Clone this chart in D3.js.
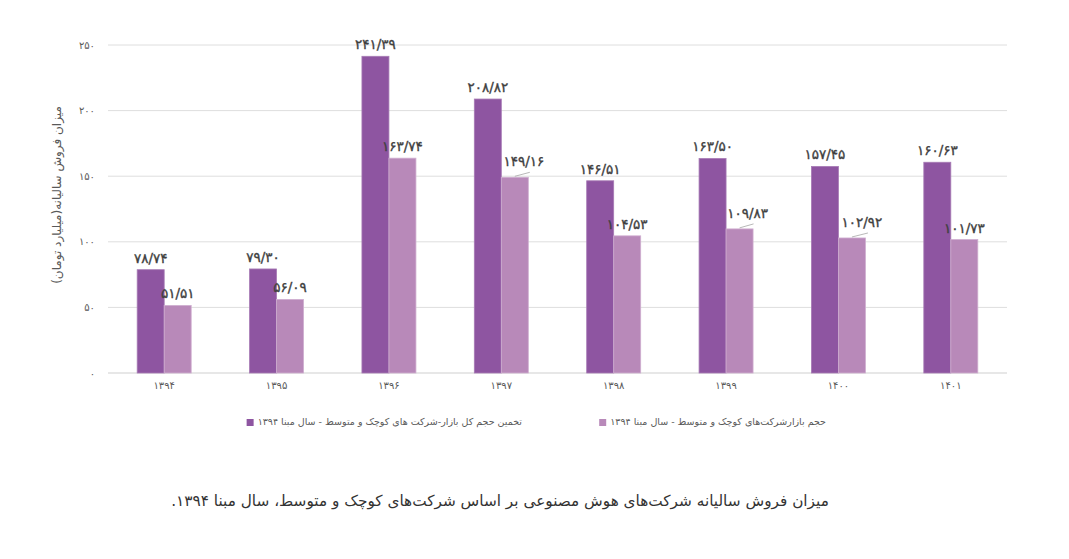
<!DOCTYPE html>
<html>
<head>
<meta charset="utf-8">
<script src="https://cdn.jsdelivr.net/npm/d3@7"></script>
<style>
  body { margin: 0; background: #fff; }
  text { font-family: "DejaVu Sans", "Noto Sans", sans-serif; }
</style>
</head>
<body>
<div id="chart"></div>
<script>
// Data
const years = ["1394", "1395", "1396", "1397", "1398", "1399", "1400", "1401"];
const totalMarket = [78.74, 79.30, 241.39, 208.82, 146.51, 163.50, 157.45, 160.63];
const smeMarket = [51.51, 56.09, 163.74, 149.16, 104.53, 109.83, 102.92, 101.73];
const yTicks = [0, 50, 100, 150, 200, 250];
const seriesNames = [
    "تخمین حجم کل بازار-شرکت های کوچک و متوسط - سال مبنا ۱۳۹۴",
    "حجم بازارشرکت‌های کوچک و متوسط - سال مبنا ۱۳۹۴"
];
const yTitle = "میزان فروش سالیانه(میلیارد تومان)";
const chartTitle = "میزان فروش سالیانه شرکت‌های هوش مصنوعی بر اساس شرکت‌های کوچک و متوسط، سال مبنا ۱۳۹۴.";

// Persian digits, "/" as decimal mark
const faDigits = "۰۱۲۳۴۵۶۷۸۹";
const toFa = s => String(s).replace(/\d/g, c => faDigits[+c]);
const fmtVal = v => toFa(v.toFixed(2).replace(".", "/"));

const colors = ["#8e55a1", "#b889b9"];

// labels that were moved off their bar in the original (with a leader line)
const labelNudge = { "1397-1": [9, 4], "1399-1": [8, 4], "1400-1": [10, 4] };

const width = 1069, height = 559;
const margin = { top: 45, right: 62, bottom: 186, left: 108 };
const innerW = width - margin.left - margin.right;
const innerH = height - margin.top - margin.bottom;

const svg = d3.select("#chart").append("svg")
    .attr("width", width)
    .attr("height", height);

const g = svg.append("g")
    .attr("transform", `translate(${margin.left},${margin.top})`);

const x0 = d3.scaleBand().domain(years).range([0, innerW]);
const groupPad = (x0.bandwidth() - 54) / 2;
const x1 = d3.scaleBand().domain([0, 1]).range([groupPad, x0.bandwidth() - groupPad]);
const y = d3.scaleLinear().domain([0, 250]).range([innerH, 0]);

// gridlines
g.selectAll("line.grid")
    .data(yTicks)
    .join("line")
    .attr("class", "grid")
    .attr("x1", 0)
    .attr("x2", innerW)
    .attr("y1", d => y(d))
    .attr("y2", d => y(d))
    .attr("stroke", d => d === 0 ? "#cfcfcf" : "#dedede")
    .attr("stroke-width", 1);

// y tick labels
g.selectAll("text.ytick")
    .data(yTicks)
    .join("text")
    .attr("class", "ytick")
    .attr("x", -13)
    .attr("y", d => y(d))
    .attr("dy", "0.35em")
    .attr("text-anchor", "end")
    .attr("fill", "#595959")
    .style("font-size", "10px")
    .text(d => toFa(d));

// x labels
g.selectAll("text.xtick")
    .data(years)
    .join("text")
    .attr("class", "xtick")
    .attr("x", d => x0(d) + x0.bandwidth() / 2)
    .attr("y", innerH + 16)
    .attr("text-anchor", "middle")
    .attr("fill", "#595959")
    .style("font-size", "10px")
    .text(d => toFa(d));

// bars
const rows = years.map((yr, i) => ({ year: yr, vals: [totalMarket[i], smeMarket[i]] }));

const groups = g.selectAll("g.year")
    .data(rows)
    .join("g")
    .attr("class", "year")
    .attr("transform", d => `translate(${x0(d.year)},0)`);

const cells = d => d.vals.map((v, k) => ({ v, k, nudge: labelNudge[d.year + "-" + k] }));

groups.selectAll("rect")
    .data(cells)
    .join("rect")
    .attr("x", d => x1(d.k))
    .attr("width", x1.bandwidth())
    .attr("y", d => y(d.v))
    .attr("height", d => innerH - y(d.v))
    .attr("fill", d => colors[d.k])
    .attr("stroke", d => d.k === 0 ? "#a77bb5" : "#cfaed0")
    .attr("stroke-width", 0.8);

// leader lines for moved labels
groups.selectAll("line.leader")
    .data(d => cells(d).filter(c => c.nudge))
    .join("line")
    .attr("class", "leader")
    .attr("x1", d => x1(d.k) + x1.bandwidth() / 2)
    .attr("y1", d => y(d.v) - 1)
    .attr("x2", d => x1(d.k) + x1.bandwidth() / 2 + d.nudge[0] + 6)
    .attr("y2", d => y(d.v) - 5)
    .attr("stroke", "#a6a6a6")
    .attr("stroke-width", 0.8);

groups.selectAll("text.val")
    .data(cells)
    .join("text")
    .attr("class", "val")
    .attr("x", d => x1(d.k) + x1.bandwidth() / 2 + (d.nudge ? d.nudge[0] : 0))
    .attr("y", d => y(d.v) - 7 - (d.nudge ? d.nudge[1] : 0))
    .attr("text-anchor", "middle")
    .attr("fill", "#404040")
    .attr("stroke", "#404040")
    .attr("stroke-width", 0.35)
    .style("font-size", "13.5px")
    .text(d => fmtVal(d.v));

// y axis title
svg.append("text")
    .attr("transform", `translate(61,${margin.top + innerH / 2 - 14}) rotate(-90)`)
    .attr("text-anchor", "middle")
    .attr("fill", "#595959")
    .style("font-size", "12px")
    .attr("direction", "rtl")
    .text(yTitle);

// legend
const legendItems = [
    { name: seriesNames[0], color: colors[0], xRight: 522 },
    { name: seriesNames[1], color: colors[1], xRight: 826 }
];
const legend = svg.append("g").attr("class", "legend");
legendItems.forEach(item => {
    const t = legend.append("text")
        .attr("x", item.xRight)
        .attr("y", 422)
        .attr("dy", "0.35em")
        .attr("text-anchor", "start")
        .attr("direction", "rtl")
        .attr("fill", "#595959")
        .style("font-size", "9.5px")
        .text(item.name);
    const bb = t.node().getBBox();
    legend.append("rect")
        .attr("x", bb.x - 11)
        .attr("y", 419)
        .attr("width", 7)
        .attr("height", 7)
        .attr("fill", item.color);
});

// chart title
svg.append("text")
    .attr("x", 500)
    .attr("y", 506)
    .attr("text-anchor", "middle")
    .attr("direction", "rtl")
    .attr("fill", "#333")
    .style("font-size", "15.3px")
    .text(chartTitle);
</script>
</body>
</html>
